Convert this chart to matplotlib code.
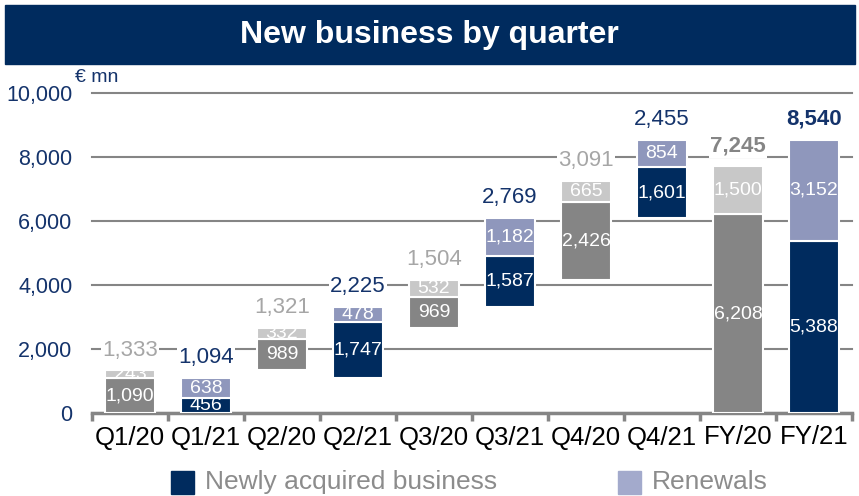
import numpy as np
import matplotlib.pyplot as plt
from matplotlib.patches import Rectangle

# data
categories = ['Q1/20', 'Q1/21', 'Q2/20', 'Q2/21', 'Q3/20', 'Q3/21', 'Q4/20', 'Q4/21', 'FY/20', 'FY/21']
new_2020 = [1090, 989, 969, 2426]
ren_2020 = [243, 332, 532, 665]
new_2021 = [456, 1747, 1587, 1601]
ren_2021 = [638, 478, 1182, 854]
tot_2020 = [1333, 1321, 1504, 3091]
tot_2021 = [1094, 2225, 2769, 2455]
fy_new = [6208, 5388]
fy_ren = [1500, 3152]
fy_tot = [7245, 8540]
yticks = [0, 2000, 4000, 6000, 8000, 10000]
legend_labels = ['Newly acquired business', 'Renewals']

navy = '#002B5E'
dgray = '#858585'
lgray = '#C8C8C8'
purple = '#8F97BC'
lab_gray = '#A6A6A6'
lab_navy = '#14336B'

plt.rcParams['font.family'] = ['Liberation Sans', 'DejaVu Sans']
fig = plt.figure(figsize=(8.59, 4.96), dpi=100)

# title banner
fig.patches.append(Rectangle((5 / 859, 1 - 64 / 496), 850 / 859, 59 / 496,
                             transform=fig.transFigure, color=navy, zorder=0))
fig.text(0.5, 1 - 35 / 496, 'New business by quarter', color='white', fontsize=23,
         fontweight='bold', ha='center', va='center')

ax = fig.add_axes([92 / 859, 1 - 413 / 496, 760 / 859, 320 / 496])

# waterfall bases: cumulative per year
base_2020 = np.concatenate([[0], np.cumsum(tot_2020)[:-1]])
base_2021 = np.concatenate([[0], np.cumsum(tot_2021)[:-1]])

x = np.arange(len(categories))
w = 0.66
x20 = x[0:8:2]
x21 = x[1:8:2]

ax.bar(x20, new_2020, w, bottom=base_2020, color=dgray, edgecolor='white', lw=1.5, zorder=3)
ax.bar(x20, ren_2020, w, bottom=base_2020 + np.array(new_2020), color=lgray, edgecolor='white', lw=1.5, zorder=3)
ax.bar(x21, new_2021, w, bottom=base_2021, color=navy, edgecolor='white', lw=1.5, zorder=3)
ax.bar(x21, ren_2021, w, bottom=base_2021 + np.array(new_2021), color=purple, edgecolor='white', lw=1.5, zorder=3)
ax.bar(x[8:], fy_new, w, color=[dgray, navy], edgecolor='white', lw=1.5, zorder=3)
ax.bar(x[8:], fy_ren, w, bottom=fy_new, color=[lgray, purple], edgecolor='white', lw=1.5, zorder=3)

# segment labels
def seg_labels(xs, bottoms, vals):
    for xi, b, v in zip(xs, bottoms, vals):
        ax.text(xi, b + v / 2, f'{v:,}', color='white', fontsize=14, ha='center', va='center', zorder=4)

seg_labels(x20, base_2020, new_2020)
seg_labels(x20, base_2020 + np.array(new_2020), ren_2020)
seg_labels(x21, base_2021, new_2021)
seg_labels(x21, base_2021 + np.array(new_2021), ren_2021)
seg_labels(x[8:], [0, 0], fy_new)
seg_labels(x[8:], fy_new, fy_ren)

# totals above bars
box = dict(facecolor='white', edgecolor='none', pad=1)
for xi, b, t in zip(x20, base_2020, tot_2020):
    ax.annotate(f'{t:,}', (xi, b + t), xytext=(0, 7), textcoords='offset points', ha='center',
                va='bottom', fontsize=16, color=lab_gray, bbox=box, zorder=4)
for xi, b, t in zip(x21, base_2021, tot_2021):
    ax.annotate(f'{t:,}', (xi, b + t), xytext=(0, 7), textcoords='offset points', ha='center',
                va='bottom', fontsize=16, color=lab_navy, bbox=box, zorder=4)
for xi, top, t, c in zip(x[8:], np.array(fy_new) + np.array(fy_ren), fy_tot, [dgray, lab_navy]):
    ax.annotate(f'{t:,}', (xi, top), xytext=(0, 7), textcoords='offset points', ha='center',
                va='bottom', fontsize=16, fontweight='bold', color=c, bbox=box, zorder=4)

ax.set_xlim(-0.5, 9.5)
ax.set_ylim(0, 10000)
ax.set_yticks(yticks)
ax.set_yticklabels([f'{v:,}' for v in yticks], color=lab_navy, fontsize=15.5)
ax.tick_params(axis='y', length=0, pad=14)
ax.yaxis.grid(True, color=dgray, lw=1.5, zorder=1, clip_on=False)
ax.set_axisbelow(True)

ax.set_xticks(x)
ax.set_xticklabels(categories, fontsize=18.5)
ax.set_xticks(np.arange(-0.5, 10, 1), minor=True)
ax.tick_params(axis='x', which='major', length=0, pad=9)
ax.tick_params(axis='x', which='minor', length=6, width=2.5, color=dgray)
for s in ['top', 'right', 'left']:
    ax.spines[s].set_visible(False)
ax.spines['bottom'].set_color(dgray)
ax.spines['bottom'].set_linewidth(2.5)

fig.text(75 / 859, 1 - 78 / 496, '€ mn', color=lab_navy, fontsize=14, ha='left', va='center')

# legend, placed by hand
for px, col, lab in zip([171, 618], [navy, '#A3AACC'], legend_labels):
    fig.patches.append(Rectangle((px / 859, 1 - 494 / 496), 23 / 859, 23 / 496,
                                 transform=fig.transFigure, color=col))
    fig.text((px + 34) / 859, 1 - 482 / 496, lab, color='#8C8C8C', fontsize=19,
             ha='left', va='center')

fig.savefig('out.png', dpi=100)
